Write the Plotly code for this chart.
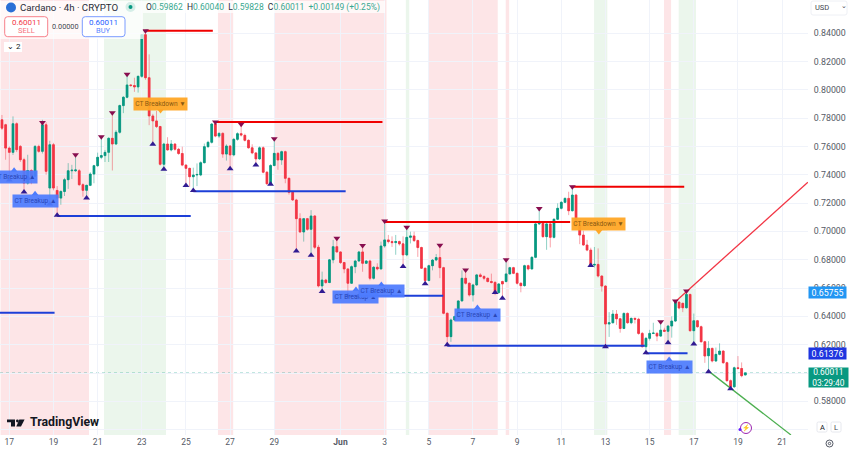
from datetime import datetime, timedelta
import plotly.graph_objects as go

START = datetime(2025, 5, 16, 16, 0)
SPAN_LEFT = "2025-05-16 13:53"
SPAN_RIGHT = "2025-06-22 04:08"

opens = [
.7788,.7753,.7588,.7558,.7760,.7600,.7506,.7341,.7430,.7390,.7600,.7565,.7753,.7306,.7612,.7289,.7235,.7282,.7365,.7428,
.7428,.7428,.7330,.7290,.7325,.7405,.7464,.7523,.7535,.7558,.7657,.7617,.7700,.7888,.7947,.8034,.8030,.8020,.8095,.8389,
.8085,.7815,.7780,.7740,.7474,.7617,.7575,.7617,.7580,.7550,.7468,.7445,.7386,.7398,.7398,.7485,.7598,.7629,.7758,.7673,
.7692,.7546,.7603,.7540,.7650,.7690,.7678,.7643,.7590,.7554,.7512,.7590,.7418,.7336,.7465,.7551,.7504,.7563,.7375,.7276,
.7222,.7090,.6996,.7090,.7015,.7109,.6888,.6615,.6657,.6639,.6799,.6892,.6855,.6780,.6735,.6634,.6751,.6791,.6855,.6775,
.6791,.6669,.6747,.6735,.6897,.6940,.6928,.6921,.6928,.6912,.6834,.6958,.6968,.6935,.6886,.6740,.6653,.6758,.6798,.6815,
.6744,.6422,.6257,.6375,.6399,.6509,.6669,.6634,.6551,.6622,.6693,.6682,.6669,.6646,.6640,.6568,.6646,.6646,.6700,.6744,
.6704,.6634,.6617,.6758,.6735,.6817,.7053,.7058,.6963,.7053,.6958,.7086,.7163,.7205,.7233,.7146,.7257,.7045,.6974,.6904,
.6868,.6762,.6767,.6685,.6614,.6346,.6355,.6416,.6383,.6315,.6421,.6355,.6386,.6380,.6280,.6186,.6245,.6280,.6280,.6261,
.6303,.6295,.6332,.6367,.6501,.6492,.6461,.6555,.6299,.6369,.6327,.6221,.6122,.6174,.6085,.6132,.6155,.6073,.5946,.5903,
.6037,.6032,.59862]
highs = [
.7822,.7760,.7600,.7812,.7770,.7610,.7520,.7541,.7440,.7610,.7612,.7788,.7770,.7640,.7625,.7320,.7290,.7378,.7482,.7470,
.7545,.7440,.7340,.7330,.7418,.7470,.7556,.7672,.7575,.7665,.7840,.7715,.7895,.7955,.8110,.8040,.8085,.8100,.8392,.8420,
.8250,.7830,.7850,.7745,.7625,.7665,.7645,.7622,.7590,.7598,.7475,.7450,.7450,.7480,.7495,.7620,.7640,.7765,.7775,.7700,
.7700,.7615,.7610,.7660,.7700,.7755,.7690,.7650,.7615,.7560,.7600,.7600,.7425,.7475,.7655,.7560,.7570,.7570,.7380,.7280,
.7230,.7128,.7095,.7095,.7150,.7115,.6905,.6716,.6665,.6805,.6940,.6950,.6860,.6785,.6740,.6760,.6800,.6862,.6900,.6797,
.6800,.6755,.6775,.6928,.7070,.6975,.6965,.6975,.6935,.6965,.7030,.6998,.6998,.6942,.6892,.6745,.6765,.6805,.6840,.6905,
.6750,.6428,.6385,.6405,.6515,.6725,.6730,.6640,.6630,.6700,.6705,.6690,.6675,.6702,.6648,.6635,.6652,.6800,.6750,.6750,
.6710,.6640,.6765,.6765,.6825,.7060,.7155,.7065,.7060,.7060,.7092,.7198,.7215,.7240,.7280,.7315,.7265,.7050,.7005,.6940,
.6885,.6890,.6880,.6690,.6620,.6430,.6445,.6445,.6390,.6428,.6428,.6392,.6392,.6390,.6290,.6255,.6305,.6355,.6290,.6360,
.6320,.6340,.6400,.6510,.6505,.6498,.6575,.6560,.6420,.6375,.6335,.6228,.6225,.6180,.6180,.6210,.6162,.6080,.5955,.6045,
.6120,.6075,.60040]
lows = [
.7716,.7506,.7363,.7540,.7560,.7490,.7280,.7330,.7333,.7385,.7555,.7550,.7400,.7200,.7290,.7110,.7188,.7250,.7300,.7370,
.7420,.7320,.7245,.7236,.7320,.7340,.7455,.7510,.7490,.7490,.7430,.7610,.7690,.7835,.7940,.8020,.7985,.7980,.8085,.8070,
.7750,.7620,.7730,.7465,.7440,.7570,.7565,.7570,.7540,.7460,.7325,.7315,.7290,.7320,.7390,.7480,.7590,.7620,.7665,.7660,
.7520,.7500,.7445,.7530,.7640,.7670,.7635,.7585,.7545,.7470,.7505,.7410,.7330,.7333,.7460,.7435,.7470,.7340,.7260,.7215,
.6870,.6990,.6928,.7005,.6845,.6875,.6605,.6575,.6630,.6635,.6775,.6850,.6770,.6705,.6550,.6630,.6705,.6785,.6715,.6770,
.6655,.6660,.6725,.6730,.6885,.6915,.6890,.6835,.6900,.6760,.6825,.6915,.6925,.6820,.6735,.6635,.6648,.6725,.6790,.6670,
.6415,.6200,.6220,.6370,.6395,.6505,.6625,.6540,.6505,.6615,.6675,.6655,.6640,.6632,.6550,.6560,.6528,.6640,.6695,.6698,
.6625,.6570,.6610,.6725,.6730,.6810,.7045,.6955,.6870,.6887,.6950,.7080,.7155,.7200,.7115,.7140,.7030,.6910,.6898,.6860,
.6755,.6745,.6675,.6575,.6190,.6255,.6350,.6340,.6285,.6310,.6348,.6345,.6350,.6270,.6180,.6140,.6230,.6275,.6225,.6255,
.6290,.6210,.6250,.6360,.6450,.6430,.6455,.6292,.6210,.6320,.6215,.6072,.6015,.6075,.6078,.6125,.6065,.5940,.5890,.5895,
.6025,.5970,.59828]
closes = [
.7729,.7588,.7558,.7760,.7577,.7506,.7341,.7430,.7390,.7600,.7565,.7753,.7424,.7612,.7306,.7235,.7282,.7365,.7428,.7432,
.7434,.7330,.7290,.7325,.7405,.7464,.7523,.7535,.7558,.7657,.7617,.7700,.7888,.7947,.8034,.8030,.8020,.8095,.8389,.8085,
.7815,.7780,.7740,.7474,.7617,.7575,.7617,.7580,.7550,.7468,.7445,.7386,.7398,.7402,.7485,.7598,.7629,.7758,.7673,.7692,
.7546,.7603,.7540,.7650,.7690,.7680,.7643,.7590,.7554,.7512,.7590,.7418,.7336,.7465,.7551,.7504,.7563,.7375,.7276,.7222,
.7090,.6996,.7090,.7015,.7109,.6888,.6615,.6657,.6639,.6799,.6892,.6855,.6780,.6735,.6634,.6751,.6791,.6855,.6775,.6791,
.6669,.6747,.6735,.6897,.6940,.6928,.6921,.6928,.6912,.6834,.6958,.6968,.6935,.6886,.6740,.6653,.6758,.6798,.6815,.6744,
.6422,.6257,.6375,.6399,.6509,.6669,.6634,.6551,.6622,.6693,.6682,.6669,.6646,.6640,.6568,.6629,.6629,.6700,.6744,.6704,
.6634,.6617,.6758,.6735,.6817,.7053,.7058,.6963,.7053,.6958,.7086,.7163,.7205,.7233,.7146,.7257,.7045,.6974,.6904,.6868,
.6762,.6767,.6685,.6614,.6346,.6355,.6416,.6383,.6315,.6421,.6355,.6386,.6380,.6280,.6186,.6245,.6280,.6282,.6261,.6303,
.6295,.6332,.6367,.6504,.6459,.6461,.6555,.6299,.6369,.6327,.6221,.6120,.6174,.6085,.6132,.6155,.6073,.5946,.5903,.6037,
.6032,.5981,.60011]

# signal markers: candle index + price
peak_idx = [11,20,27,30,34,39,58,65,74,91,98,104,110,119,126,137,146,155,179,183,186]
peak_val = [.7768,.7542,.7669,.7838,.8109,.8417,.7772,.7756,.7655,.6951,.6900,.7074,.7029,.6902,.6728,.6799,.7161,.7315,.6362,.6508,.6579]
trough_idx = [2,6,7,13,15,23,41,44,50,52,62,69,73,80,84,87,94,109,115,121,134,136,160,164,175,181,188,192,198]
trough_val = [.7363,.7278,.7375,.7194,.7114,.7236,.7615,.7438,.7324,.7288,.7443,.7469,.7333,.6862,.6831,.6575,.6547,.6752,.6631,.6199,.6568,.6528,.6760,.6186,.6143,.6214,.6205,.6009,.5889]

# horizontal levels: start candle, end candle, price
res_start = [39,58,104,155]
res_end = [57.3,103.4,154.4,185.4]
res_val = [.8417,.7772,.7067,.7315]
sup_start = [-1,15,52,94,121,175]
sup_end = [14.3,51.3,93.4,119.9,174.7,186.3]
sup_val = [.6426,.7109,.7283,.6546,.6193,.6139]
# trend lines
upper_idx = [183.2,219]
upper_val = [.6509,.7347]
lower_idx = [192.2,214.4]
lower_val = [.6010,.5563]

# shaded periods
red_zones = [("2025-05-16 14:30","2025-05-20 14:36"),("2025-05-26 10:48","2025-05-27 03:18"),("2025-05-28 23:42","2025-06-03 02:00"),
             ("2025-06-04 23:24","2025-06-08 02:54"),("2025-06-08 11:36","2025-06-08 15:18"),("2025-06-15 15:36","2025-06-15 23:18")]
green_zones = [("2025-05-21 06:54","2025-05-24 02:18"),("2025-06-03 23:00","2025-06-04 02:42"),("2025-06-12 11:36","2025-06-13 02:00"),
               ("2025-06-16 07:36","2025-06-17 02:24")]

# signal labels
label_text = ["CT Breakup ▲","CT Breakup ▲","CT Breakdown ▼","CT Breakdown ▼","CT Breakup ▲","CT Breakup ▲","CT Breakup ▲","CT Breakup ▲"]
label_idx = [3.3,9,43.1,162.2,96.2,103.1,129.2,181.3]
label_val = [.7381,.7215,.7903,.7049,.6540,.6576,.6413,.6046]

x_tick_dates = ["2025-05-17","2025-05-19","2025-05-21","2025-05-23","2025-05-25","2025-05-27","2025-05-29","2025-06-01","2025-06-03",
                "2025-06-05","2025-06-07","2025-06-09","2025-06-11","2025-06-13","2025-06-15","2025-06-17","2025-06-19","2025-06-21"]
x_tick_text = ["17","19","21","23","25","27","29","<b>Jun</b>","3","5","7","9","11","13","15","17","19","21"]
y_tick_vals = [.56,.58,.60,.62,.64,.66,.68,.70,.72,.74,.76,.78,.80,.82,.84]
y_tick_text = ["" if v in (.56, .60) else f"{v:.5f}" for v in y_tick_vals]

UP, DOWN = "#089981", "#f23645"
FONT = "Roboto"
PW, PH = 808.0, 435.0


def t(i):
    return START + timedelta(hours=4 * i)


def X(px):
    return px / PW


def Y(py):
    return 1 - py / PH


times = [t(i) for i in range(len(closes))]
fig = go.Figure()

# pale wicks
fig.add_trace(go.Candlestick(x=times, open=opens, high=highs, low=lows, close=closes,
    increasing=dict(line=dict(color="rgba(8,153,129,0.45)", width=1), fillcolor=UP),
    decreasing=dict(line=dict(color="rgba(242,54,69,0.45)", width=1), fillcolor=DOWN),
    whiskerwidth=0, showlegend=False, hoverinfo="skip"))
# solid bodies
fig.add_trace(go.Candlestick(x=times, open=opens,
    high=[max(a, b) for a, b in zip(opens, closes)], low=[min(a, b) for a, b in zip(opens, closes)], close=closes,
    increasing=dict(line=dict(color=UP, width=0.5), fillcolor=UP),
    decreasing=dict(line=dict(color=DOWN, width=0.5), fillcolor=DOWN),
    whiskerwidth=0, showlegend=False, hoverinfo="skip"))

for s, e, v in zip(res_start, res_end, res_val):
    fig.add_trace(go.Scatter(x=[t(s), t(e)], y=[v, v], mode="lines", line=dict(color="#f00000", width=2), showlegend=False, hoverinfo="skip"))
for s, e, v in zip(sup_start, sup_end, sup_val):
    fig.add_trace(go.Scatter(x=[t(s), t(e)], y=[v, v], mode="lines", line=dict(color="#1c3fd8", width=2), showlegend=False, hoverinfo="skip"))
fig.add_trace(go.Scatter(x=[t(i) for i in upper_idx], y=upper_val, mode="lines", line=dict(color="#f23645", width=1.3), showlegend=False, hoverinfo="skip"))
fig.add_trace(go.Scatter(x=[t(i) for i in lower_idx], y=lower_val, mode="lines", line=dict(color="#4caf50", width=1.3), showlegend=False, hoverinfo="skip"))
fig.add_trace(go.Scatter(x=[t(i) for i in peak_idx], y=peak_val, mode="markers", marker=dict(symbol="triangle-down", size=6, color="#880e4f"), showlegend=False, hoverinfo="skip"))
fig.add_trace(go.Scatter(x=[t(i) for i in trough_idx], y=trough_val, mode="markers", marker=dict(symbol="triangle-up", size=6, color="#311b92"), showlegend=False, hoverinfo="skip"))

shapes = []
for a, b in red_zones:
    shapes.append(dict(type="rect", xref="x", yref="paper", x0=a, x1=b, y0=0, y1=1, fillcolor="rgba(242,54,69,0.13)", line_width=0, layer="below"))
for a, b in green_zones:
    shapes.append(dict(type="rect", xref="x", yref="paper", x0=a, x1=b, y0=0, y1=1, fillcolor="rgba(76,175,80,0.11)", line_width=0, layer="below"))
shapes.append(dict(type="line", xref="paper", yref="y", x0=0, x1=1, y0=closes[-1], y1=closes[-1], line=dict(color="rgba(8,153,129,0.4)", width=1, dash="dot"), layer="below"))


def paper_rect(x0, y0, x1, y1, fill, line=None, r=0, lw=1):
    if r:
        p = (f"M{X(x0+r)},{Y(y0)} L{X(x1-r)},{Y(y0)} Q{X(x1)},{Y(y0)} {X(x1)},{Y(y0+r)} L{X(x1)},{Y(y1-r)} Q{X(x1)},{Y(y1)} {X(x1-r)},{Y(y1)} "
             f"L{X(x0+r)},{Y(y1)} Q{X(x0)},{Y(y1)} {X(x0)},{Y(y1-r)} L{X(x0)},{Y(y0+r)} Q{X(x0)},{Y(y0)} {X(x0+r)},{Y(y0)} Z")
        return dict(type="path", xref="paper", yref="paper", path=p, fillcolor=fill, line=dict(color=line or fill, width=lw if line else 0), layer="above")
    return dict(type="rect", xref="paper", yref="paper", x0=X(x0), x1=X(x1), y0=Y(y0), y1=Y(y1), fillcolor=fill, line=dict(color=line or fill, width=lw if line else 0), layer="above")


def paper_circle(cx, cy, r, fill, line=None, lw=1):
    return dict(type="circle", xref="paper", yref="paper", x0=X(cx-r), x1=X(cx+r), y0=Y(cy+r), y1=Y(cy-r), fillcolor=fill, line=dict(color=line or fill, width=lw if line else 0), layer="above")


def poly(pts, fill):
    p = "M" + " L".join(f"{X(a)},{Y(b)}" for a, b in pts) + " Z"
    return dict(type="path", xref="paper", yref="paper", path=p, fillcolor=fill, line_width=0, layer="above")


# header chrome
shapes += [
    paper_rect(0, 1, 385, 13, "rgba(255,255,255,0.72)"),
    paper_rect(0, 13, 143, 39, "rgba(255,255,255,0.72)"),
    paper_circle(11, 7.5, 5, "#2a6fd6"),
    paper_circle(130.5, 7, 5, "rgba(8,153,129,0.15)"),
    paper_circle(130.5, 7, 2, UP),
    paper_rect(4.7, 16.7, 47.7, 36.7, "#ffffff", "#f7808b", r=3),
    paper_rect(82.3, 16.7, 125, 36.7, "#ffffff", "#7b9cff", r=3),
    paper_rect(4, 42, 22, 52, "#ffffff", None),
    # logo
    poly([(7, 419.5), (15, 419.5), (15, 426.5), (11, 426.5), (11, 422.2), (7, 422.2)], "#131722"),
    paper_circle(17.4, 421, 1.4, "#131722"),
    poly([(19.3, 419.5), (24.6, 419.5), (21, 426.5), (16.3, 426.5)], "#131722"),
    # bottom-right chrome
    paper_rect(811, 1, 847, 15, "#ffffff", "#eef0f5", r=2),
    paper_rect(817, 422, 827, 432, "#ffffff", "#e6e8ee", r=1.5),
    paper_rect(831, 422, 841, 432, "#ffffff", "#e6e8ee", r=1.5),
    paper_circle(829.5, 443.5, 3.5, "#ffffff", "#555a66", 1),
    paper_circle(829.5, 443.5, 1.2, "#ffffff", "#555a66", 1),
    paper_circle(746, 428, 5.5, "#ffffff", "#9c27b0", 1),
    paper_circle(740, 429.5, 1.5, "#651fff"),
]

ann = []


def text(px_x, px_y, s, size, color="#131722", anchor="left", **kw):
    ann.append(dict(xref="paper", yref="paper", x=X(px_x), y=Y(px_y), text=s, showarrow=False, xanchor=anchor, yanchor="middle",
                    font=dict(family=FONT, size=size, color=color), borderpad=0, **kw))


text(18.5, 7.5, "Cardano · 4h · CRYPTO", 9.7, "#2a2e39")
G = "#3aa891"
text(145, 7.5, f'O<span style="color:{G}">0.59862</span>  H<span style="color:{G}">0.60040</span>  '
     f'L<span style="color:{G}">0.59828</span>  C<span style="color:{G}">0.60011</span>  '
     f'<span style="color:{G}">+0.00149 (+0.25%)</span>', 8.5, "#2a2e39")
text(26.2, 23, "0.60011", 8, "#f23645", "center")
text(26.2, 31, "SELL", 7.5, "#f7707c", "center")
text(103.6, 23, "0.60011", 8, "#2962ff", "center")
text(103.6, 31, "BUY", 7.5, "#5b86ff", "center")
text(65, 26.5, "0.00000", 7.3, "#434651", "center")
text(13.5, 47, "⌄ 2", 8, "#131722", "center")
text(29, 421.5, "<b>TradingView</b>", 12.3, "#131722")
text(814, 7.5, "USD", 7.5, "#434651")
text(840, 6.5, "⌄", 7, "#434651")
text(822, 427, "A", 7.5, "#131722", "center")
text(836, 427, "L", 7.5, "#434651", "center")
text(746, 428, "⚡", 6.5, "#9c27b0", "center")

# price labels
price_labels = [("0.65755", 292, "#2196f3", 11), ("0.61376", 353.5, "#1e35e0", 11)]
for s, yy, col, h in price_labels:
    ann.append(dict(xref="paper", yref="paper", x=X(808), y=Y(yy), text=s, showarrow=False, xanchor="left", yanchor="middle", width=37, height=h,
                    bgcolor=col, font=dict(family=FONT, size=8.8, color="#ffffff"), borderpad=0))
ann.append(dict(xref="paper", yref="paper", x=X(808), y=Y(377), text="0.60011<br>03:29:40", showarrow=False, xanchor="left", yanchor="middle", width=39, height=19,
                bgcolor=UP, font=dict(family=FONT, size=8.4, color="#ffffff"), borderpad=0))

# signal labels + their pointers
tip_x, tip_y, tip_c, tip_s = [], [], [], []
for s, i, v in zip(label_text, label_idx, label_val):
    breakup = "Breakup" in s
    col = "rgba(77,124,254,0.93)" if breakup else "rgba(255,167,38,0.95)"
    ann.append(dict(xref="x", yref="y", x=t(i), y=v, text=s, showarrow=False, width=45 if breakup else 53, height=11.5, bgcolor=col,
                    font=dict(family=FONT, size=6.6, color="#2a47b8" if breakup else "#8a5a12"), borderpad=0))
    tip_x.append(t(i))
    tip_y.append(v + (.0050 if breakup else -.0050))
    tip_c.append("#4d7cfe" if breakup else "#ffa726")
    tip_s.append("triangle-up" if breakup else "triangle-down")
fig.add_trace(go.Scatter(x=tip_x, y=tip_y, mode="markers", marker=dict(symbol=tip_s, size=6, color=tip_c), showlegend=False, hoverinfo="skip"))

fig.update_layout(
    width=850, height=450, margin=dict(l=0, r=42, t=0, b=15), plot_bgcolor="#ffffff", paper_bgcolor="#ffffff",
    shapes=shapes, annotations=ann, showlegend=False, font=dict(family=FONT),
    xaxis=dict(type="date", automargin=False, range=[SPAN_LEFT, SPAN_RIGHT], rangeslider=dict(visible=False), tickmode="array", tickvals=x_tick_dates, ticktext=x_tick_text,
               showgrid=True, gridcolor="#f0f3fa", gridwidth=1, zeroline=False, showline=False, ticks="", ticklen=0,
               tickfont=dict(family=FONT, size=8.5, color="#555a66")),
    yaxis=dict(side="right", automargin=False, range=[.55626, .86337], tickmode="array", tickvals=y_tick_vals, ticktext=y_tick_text,
               showgrid=True, gridcolor="#f0f3fa", gridwidth=1, zeroline=False, showline=False, ticks="outside", ticklen=3, tickcolor="#ffffff",
               tickfont=dict(family=FONT, size=8.8, color="#555a66")),
)
for name, arr in (("opens", opens), ("highs", highs), ("lows", lows), ("closes", closes)):
    assert len(arr) == 203, (name, len(arr))
fig.write_html("out.html", config={"displayModeBar": False},
               post_script="document.body.style.margin='0';document.documentElement.style.overflow='hidden';")
